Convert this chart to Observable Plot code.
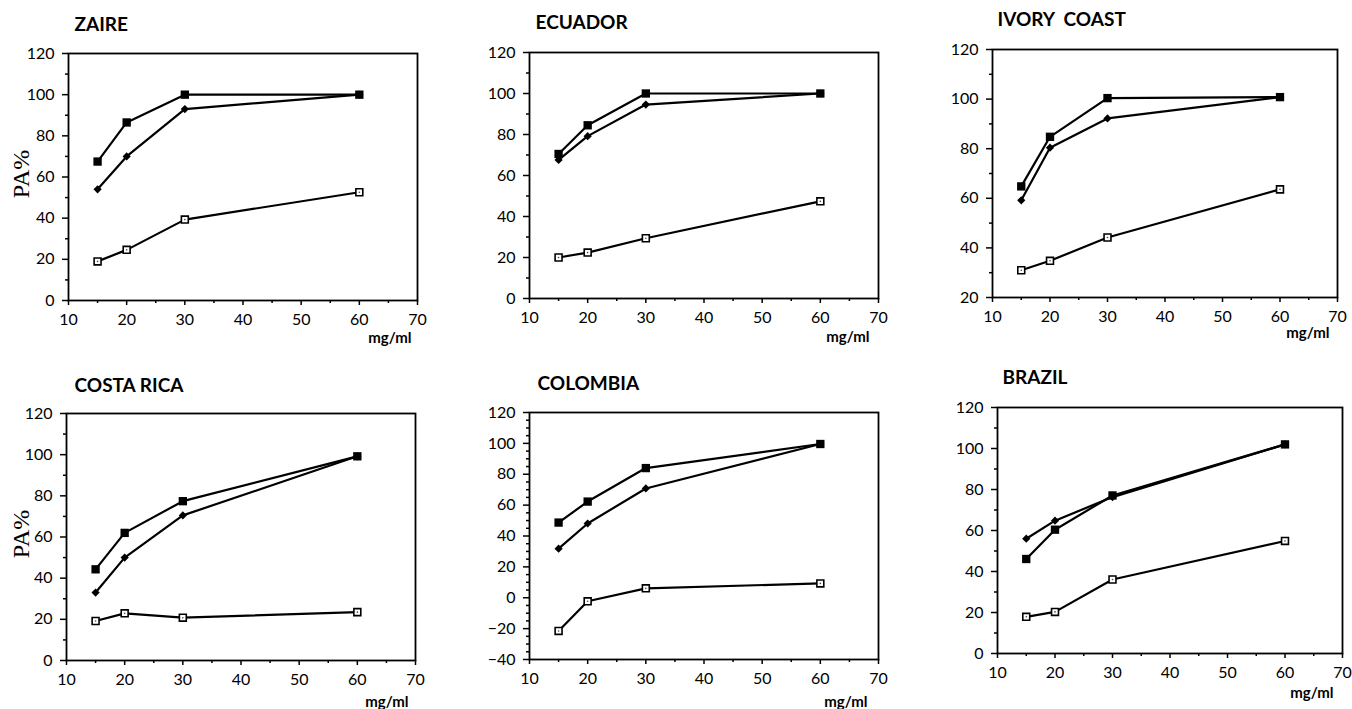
<!DOCTYPE html>
<html><head><meta charset="utf-8">
<script src="https://cdn.jsdelivr.net/npm/d3@7"></script>
<script src="https://cdn.jsdelivr.net/npm/@observablehq/plot@0.6"></script>
<style>
html,body{margin:0;padding:0;background:#fff;overflow:hidden;}
#page{position:relative;width:1352px;height:709px;overflow:hidden;}
#page svg{position:absolute;}
</style></head><body><div id="page"></div>
<script>
// ---- data ----
const doses = [15, 20, 30, 60];
const countries = ["ZAIRE", "ECUADOR", "IVORY  COAST", "COSTA RICA", "COLOMBIA", "BRAZIL"];
const seriesNames = ["filled square", "filled diamond", "open square"];

const zaireFilledSquare = [67.5, 86.5, 100, 100];
const zaireFilledDiamond = [54, 70, 93, 100];
const zaireOpenSquare = [19, 24.6, 39.3, 52.6];

const ecuadorFilledSquare = [70.5, 84.5, 100, 100];
const ecuadorFilledDiamond = [67.6, 79.2, 94.6, 100];
const ecuadorOpenSquare = [20, 22.4, 29.4, 47.4];

const ivoryCoastFilledSquare = [64.8, 84.8, 100.4, 100.8];
const ivoryCoastFilledDiamond = [59.2, 80.4, 92.2, 100.8];
const ivoryCoastOpenSquare = [31, 34.8, 44.2, 63.6];

const costaRicaFilledSquare = [44.3, 62, 77.4, 99.2];
const costaRicaFilledDiamond = [33, 50, 70.5, 99.2];
const costaRicaOpenSquare = [19.2, 22.9, 20.8, 23.5];

const colombiaFilledSquare = [48.7, 62.3, 84, 99.6];
const colombiaFilledDiamond = [31.8, 48.1, 70.8, 99.6];
const colombiaOpenSquare = [-21.5, -2.3, 6.1, 9.3];

const brazilFilledSquare = [46.1, 60.4, 77.1, 102];
const brazilFilledDiamond = [56, 64.8, 76.3, 102];
const brazilOpenSquare = [17.9, 20.3, 36.1, 54.9];

const xTicks = [10, 20, 30, 40, 50, 60, 70];
const xMinorTicks = [15, 25, 35, 45, 55, 65];
const yTicksStandard = [0, 20, 40, 60, 80, 100, 120];
const yMinorStandard = [10, 30, 50, 70, 90, 110];
const yTicksIvoryCoast = [20, 40, 60, 80, 100, 120];
const yMinorIvoryCoast = [30, 50, 70, 90, 110];
const yTicksColombia = [-40, -20, 0, 20, 40, 60, 80, 100, 120];
const yMinorColombia = [-35, -30, -25, -15, -10, -5, 5, 10, 15, 25, 30, 35, 45, 50, 55, 65, 70, 75, 85, 90, 95, 105, 110, 115];
const xLabel = "mg/ml";
const yLabel = "PA%";

// ---- layout (page pixel positions of each frame) ----
const panels = [
  {title: countries[0], series: [zaireFilledSquare, zaireFilledDiamond, zaireOpenSquare], yTicks: yTicksStandard, yMinor: yMinorStandard,
   L: 68, R: 417, T: 53, B: 300, titleX: 74, titleY: 30, unitR: 411, unitY: 342, yLab: true},
  {title: countries[1], series: [ecuadorFilledSquare, ecuadorFilledDiamond, ecuadorOpenSquare], yTicks: yTicksStandard, yMinor: yMinorStandard,
   L: 529, R: 878, T: 52, B: 298, titleX: 535, titleY: 28, unitR: 869, unitY: 341, yLab: false},
  {title: countries[2], series: [ivoryCoastFilledSquare, ivoryCoastFilledDiamond, ivoryCoastOpenSquare], yTicks: yTicksIvoryCoast, yMinor: yMinorIvoryCoast,
   L: 992, R: 1337, T: 49, B: 297, titleX: 997, titleY: 25, unitR: 1329, unitY: 337, yLab: false},
  {title: countries[3], series: [costaRicaFilledSquare, costaRicaFilledDiamond, costaRicaOpenSquare], yTicks: yTicksStandard, yMinor: yMinorStandard,
   L: 66, R: 415, T: 413, B: 660, titleX: 74, titleY: 391, unitR: 408, unitY: 706, yLab: true},
  {title: countries[4], series: [colombiaFilledSquare, colombiaFilledDiamond, colombiaOpenSquare], yTicks: yTicksColombia, yMinor: yMinorColombia,
   L: 529, R: 878, T: 412, B: 659, titleX: 537, titleY: 389, unitR: 867, unitY: 706, yLab: false},
  {title: countries[5], series: [brazilFilledSquare, brazilFilledDiamond, brazilOpenSquare], yTicks: yTicksStandard, yMinor: yMinorStandard,
   L: 997, R: 1342, T: 407, B: 653, titleX: 1002, titleY: 383, unitR: 1333, unitY: 697, yLab: false}
];

const ML = 75, MT = 60, MR = 8, MB = 58;
const page = document.getElementById("page");

for (const p of panels) {
  const rows = [];
  p.series.forEach((vals, si) => vals.forEach((v, i) => rows.push({series: seriesNames[si], dose: doses[i], value: v})));
  const fs = rows.filter(d => d.series === seriesNames[0]);
  const fd = rows.filter(d => d.series === seriesNames[1]);
  const os = rows.filter(d => d.series === seriesNames[2]);
  const fw = p.R - p.L, fh = p.B - p.T;
  const ymin = p.yTicks[0], ymax = p.yTicks[p.yTicks.length - 1];

  const marks = [
    Plot.frame({stroke: "black", strokeWidth: 1.8}),
    Plot.axisX(xTicks, {tickSize: 5, tickPadding: 8, fontSize: 16, label: null, strokeWidth: 1.5}),
    Plot.axisX(xMinorTicks, {tickSize: 3, fill: "none", label: null, strokeWidth: 1.5}),
    Plot.axisY(p.yTicks, {tickSize: 6, tickPadding: 8, fontSize: 16, label: null, strokeWidth: 1.5}),
    Plot.axisY(p.yMinor, {tickSize: 3, fill: "none", label: null, strokeWidth: 1.5}),
    Plot.line(rows, {x: "dose", y: "value", z: "series", stroke: "black", strokeWidth: 2.2}),
    Plot.dot(fd, {x: "dose", y: "value", symbol: "diamond2", r: 3.7, fill: "black", stroke: "none"}),
    Plot.dot(fs, {x: "dose", y: "value", symbol: "square", r: 4.7, fill: "black", stroke: "none"}),
    Plot.dot(os, {x: "dose", y: "value", symbol: "square", r: 3.9, fill: "white", stroke: "black", strokeWidth: 1.6}),
    Plot.dot(os, {x: "dose", y: "value", r: 0.8, fill: "#444", stroke: "none"}),
    Plot.text([p.title], {frameAnchor: "top-left", dx: p.titleX - p.L, dy: p.titleY - p.T, lineAnchor: "bottom", textAnchor: "start",
      fontSize: 19, fontWeight: 700, fontFamily: "Lato", fill: "black", ariaLabel: "panel-title"}),
    Plot.text([xLabel], {frameAnchor: "bottom-right", dx: p.unitR - p.R, dy: p.unitY - p.B, lineAnchor: "bottom", textAnchor: "end",
      fontSize: 15, fontWeight: 700, fontFamily: "Lato", fill: "black", ariaLabel: "unit-label"})
  ];
  if (p.yLab) {
    marks.push(Plot.text([yLabel], {frameAnchor: "left", dx: 21 - p.L, dy: -3, rotate: -90, lineAnchor: "middle", textAnchor: "middle",
      fontSize: 24, fontFamily: "Liberation Serif", fill: "black", ariaLabel: "y-label"}));
  }

  const svg = Plot.plot({
    width: fw + ML + MR,
    height: fh + MT + MB,
    marginLeft: ML, marginRight: MR, marginTop: MT, marginBottom: MB,
    x: {domain: [10, 70], axis: null},
    y: {domain: [ymin, ymax], axis: null},
    style: {fontFamily: "Lato", fontSize: "16px", color: "black", background: "transparent", overflow: "visible"},
    marks
  });
  svg.style.left = (p.L - ML) + "px";
  svg.style.top = (p.T - MT) + "px";
  d3.select(svg).selectAll('g[aria-label="panel-title"] text').style("letter-spacing", "3px");
  d3.select(svg).selectAll('g[aria-label="unit-label"] text').style("letter-spacing", "3.5px");
  page.appendChild(svg);
}
</script></body></html>
